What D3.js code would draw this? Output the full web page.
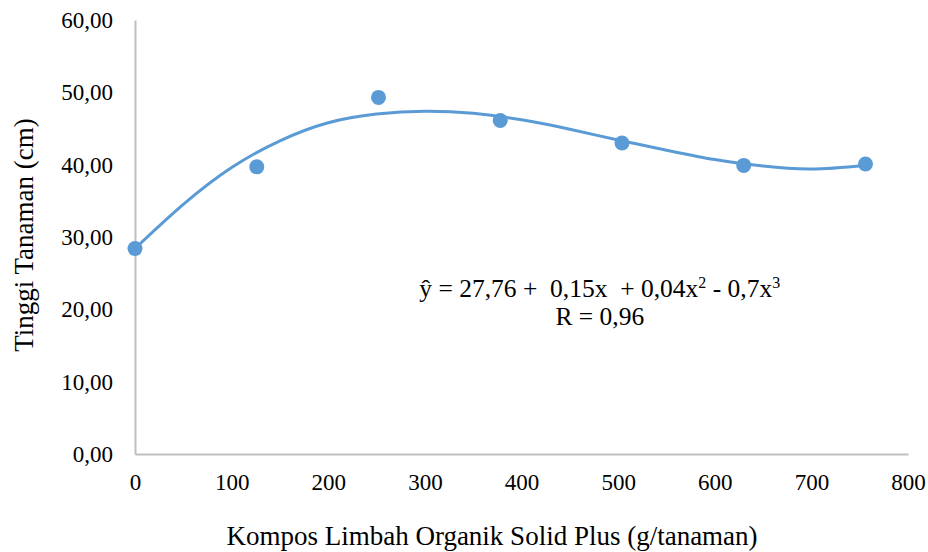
<!DOCTYPE html>
<html>
<head>
<meta charset="utf-8">
<script src="https://cdn.jsdelivr.net/npm/d3@7"></script>
</head>
<body style="margin:0">
<svg id="drawing_region"></svg>
<script>
// dosis kompos (g/tanaman) dan tinggi tanaman (cm)
const dosis = [0, 126, 252, 378, 504, 630, 756];
const tinggi = [28.4, 39.7, 49.3, 46.1, 43.0, 39.9, 40.1];

// garis tren polinomial
const trendX = [0, 50, 100, 150, 200, 250, 300, 350, 400, 450, 500, 550, 600, 650, 700, 756];
const trendY = [28.4, 34.5, 39.6, 43.3, 45.8, 47.0, 47.4, 47.1, 46.2, 44.9, 43.4, 42.0, 40.7, 39.8, 39.4, 39.9];

const xTicks = [0, 100, 200, 300, 400, 500, 600, 700, 800];
const yTicks = [0, 10, 20, 30, 40, 50, 60];

const xLabel = 'Kompos Limbah Organik Solid Plus (g/tanaman)';
const yLabel = 'Tinggi Tanaman (cm)';
const eqLine = 'ŷ = 27,76 +  0,15x  + 0,04x';
const rLine = 'R = 0,96';

const width = 928, height = 552;
const margin = {top: 20, right: 20, bottom: 98, left: 135};
const serif = 'Liberation Serif';

const svg = d3.select('#drawing_region')
    .attr('width', width)
    .attr('height', height);

const innerW = width - margin.left - margin.right;
const innerH = height - margin.top - margin.bottom;

const chart = svg.append('g')
    .attr('transform', `translate(${margin.left}, ${margin.top})`);

const xscale = d3.scaleLinear().domain([0, 800]).range([0, innerW]);
const yscale = d3.scaleLinear().domain([0, 60]).range([innerH, 0]);

const fmt = d => d3.format('.2f')(d).replace('.', ',');

// sumbu
const xaxis = d3.axisBottom(xscale).tickValues(xTicks).tickSize(0).tickPadding(20);
const yaxis = d3.axisLeft(yscale).tickValues(yTicks).tickFormat(fmt).tickSize(0).tickPadding(22);

const gx = chart.append('g')
    .attr('transform', `translate(0, ${innerH})`)
    .call(xaxis);
const gy = chart.append('g').call(yaxis);

[gx, gy].forEach(g => {
    g.select('.domain').attr('stroke', '#bfbfbf').attr('stroke-width', 2);
    g.selectAll('text')
        .attr('font-family', serif)
        .attr('font-size', 23)
        .attr('fill', '#000');
});

// garis tren
const line = d3.line()
    .x(d => xscale(d[0]))
    .y(d => yscale(d[1]))
    .curve(d3.curveNatural);

chart.append('path')
    .datum(d3.zip(trendX, trendY))
    .attr('fill', 'none')
    .attr('stroke', '#5b9bd5')
    .attr('stroke-width', 3)
    .attr('d', line);

// titik data
chart.append('g')
    .selectAll('circle')
    .data(d3.zip(dosis, tinggi))
    .join('circle')
    .attr('cx', d => xscale(d[0]))
    .attr('cy', d => yscale(d[1]))
    .attr('r', 7.5)
    .attr('fill', '#5b9bd5');

// persamaan regresi
const eq = chart.append('text')
    .attr('x', xscale(481))
    .attr('y', 277)
    .attr('text-anchor', 'middle')
    .attr('font-family', serif)
    .attr('font-size', 25.5)
    .attr('xml:space', 'preserve');
eq.append('tspan').text(eqLine);
eq.append('tspan').attr('dy', -9).attr('font-size', 16).text('2');
eq.append('tspan').attr('dy', 9).text(' - 0,7x');
eq.append('tspan').attr('dy', -9).attr('font-size', 16).text('3');

chart.append('text')
    .attr('x', xscale(481))
    .attr('y', 305)
    .attr('text-anchor', 'middle')
    .attr('font-family', serif)
    .attr('font-size', 25.5)
    .text(rLine);

// judul sumbu
svg.append('text')
    .attr('x', 492)
    .attr('y', 545)
    .attr('text-anchor', 'middle')
    .attr('font-family', serif)
    .attr('font-size', 27)
    .text(xLabel);

svg.append('text')
    .attr('transform', 'translate(33, 235) rotate(-90)')
    .attr('text-anchor', 'middle')
    .attr('font-family', serif)
    .attr('font-size', 27)
    .text(yLabel);
</script>
</body>
</html>
